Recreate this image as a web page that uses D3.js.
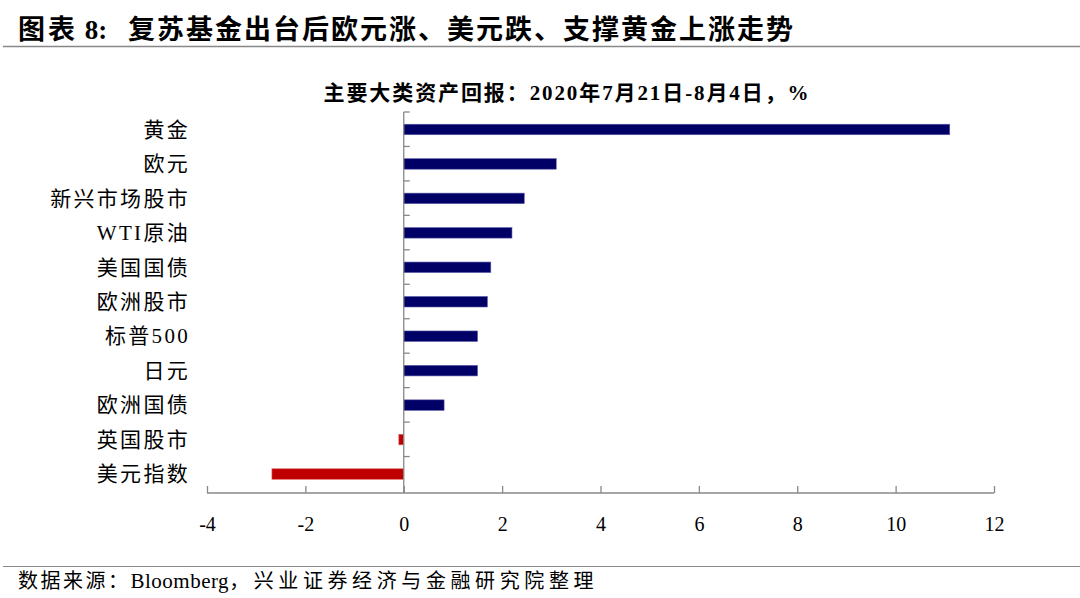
<!DOCTYPE html>
<html><head><meta charset="utf-8">
<script src="https://cdn.jsdelivr.net/npm/d3@7"></script>
<style>
html,body{margin:0;padding:0;background:#fff;}
svg{display:block;}
text{font-family:"Liberation Serif","Times New Roman","Noto Sans CJK SC",serif;fill:#000;}
</style></head>
<body>
<svg id="c" width="1080" height="598"></svg>
<script>
const categories = ["黄金","欧元","新兴市场股市","WTI原油","美国国债","欧洲股市","标普500","日元","欧洲国债","英国股市","美元指数"];
const values = [11.1, 3.1, 2.45, 2.2, 1.77, 1.7, 1.5, 1.5, 0.82, -0.1, -2.68];
const xTicks = [-4,-2,0,2,4,6,8,10,12];
const titleParts = ["图表", " 8:", "复苏基金出台后欧元涨、美元跌、支撑黄金上涨走势"];
const chartTitle = "主要大类资产回报：2020年7月21日-8月4日，%";
const sourceParts = ["数据来源：", "Bloomberg", "，兴业证券经济与金融研究院整理"];

const svg = d3.select("#c");
const W = 1080, H = 598;

const t = svg.append("text").attr("y", 39).attr("font-size", 27).attr("font-weight", "bold");
t.append("tspan").attr("x", 18).attr("letter-spacing", 3).text(titleParts[0]);
t.append("tspan").attr("letter-spacing", 0).text(titleParts[1]);
t.append("tspan").attr("x", 128).attr("letter-spacing", 2).text(titleParts[2]);
svg.append("line").attr("x1", 3).attr("x2", W).attr("y1", 46.5).attr("y2", 46.5)
  .attr("stroke", "#888").attr("stroke-width", 1.5);

svg.append("text").attr("x", 567).attr("y", 100).attr("text-anchor", "middle")
  .attr("font-size", 21).attr("font-weight", "bold").attr("letter-spacing", 1.9).text(chartTitle);

const x = d3.scaleLinear().domain([-4, 12]).range([207, 994]);
const y = d3.scaleBand().domain(categories).range([112, 491]).paddingInner(0).paddingOuter(0);
const axisY = 493;

// bars
svg.append("g").selectAll("rect").data(values).join("rect")
  .attr("x", d => x(Math.min(0, d)))
  .attr("width", d => Math.abs(x(d) - x(0)))
  .attr("y", (d, i) => y(categories[i]) + y.bandwidth()/2 - 5)
  .attr("height", 10.5)
  .attr("fill", d => d >= 0 ? "#000066" : "#c00000")
  .attr("stroke", d => d >= 0 ? "#5a5aa8" : "#e06060")
  .attr("stroke-width", 0.6);

// x axis
const xAxis = d3.axisBottom(x).tickValues(xTicks).tickSize(-7).tickFormat(d => String(d));
const gx = svg.append("g").attr("transform", `translate(0,${axisY})`).call(xAxis);
gx.select(".domain").attr("stroke", "#888").attr("stroke-width", 1.3).attr("d", `M${x(-4)},0H${x(12)}`);
gx.selectAll(".tick line").attr("stroke", "#888").attr("stroke-width", 1.3);
gx.selectAll(".tick text").attr("dy", 0).attr("y", 38).attr("font-size", 20)
  .attr("font-family", "Liberation Serif, serif").attr("fill", "#000");

// y axis at zero
const yAxisG = svg.append("g");
yAxisG.append("line").attr("x1", x(0)).attr("x2", x(0)).attr("y1", y.range()[0]).attr("y2", axisY)
  .attr("stroke", "#888").attr("stroke-width", 1.3);
const boundaries = categories.map(c => y(c));
yAxisG.selectAll("line.t").data(boundaries).join("line").attr("class","t")
  .attr("x1", x(0)).attr("x2", x(0) + 6)
  .attr("y1", d => d).attr("y2", d => d)
  .attr("stroke", "#888").attr("stroke-width", 1.3);

// category labels
svg.append("g").selectAll("text").data(categories).join("text")
  .attr("x", 190).attr("y", d => y(d) + y.bandwidth()/2 + 7.5)
  .attr("text-anchor", "end").attr("font-size", 21).attr("letter-spacing", 2.3).text(d => d);

svg.append("line").attr("x1", 3).attr("x2", W).attr("y1", 566.5).attr("y2", 566.5)
  .attr("stroke", "#888").attr("stroke-width", 1.2);
const s = svg.append("text").attr("y", 588).attr("font-size", 20);
s.append("tspan").attr("x", 18).attr("letter-spacing", 2.5).text(sourceParts[0]);
s.append("tspan").attr("font-size", 21).attr("letter-spacing", 0.5).text(sourceParts[1]);
s.append("tspan").attr("letter-spacing", 4.6).text(sourceParts[2]);
</script>
</body></html>
